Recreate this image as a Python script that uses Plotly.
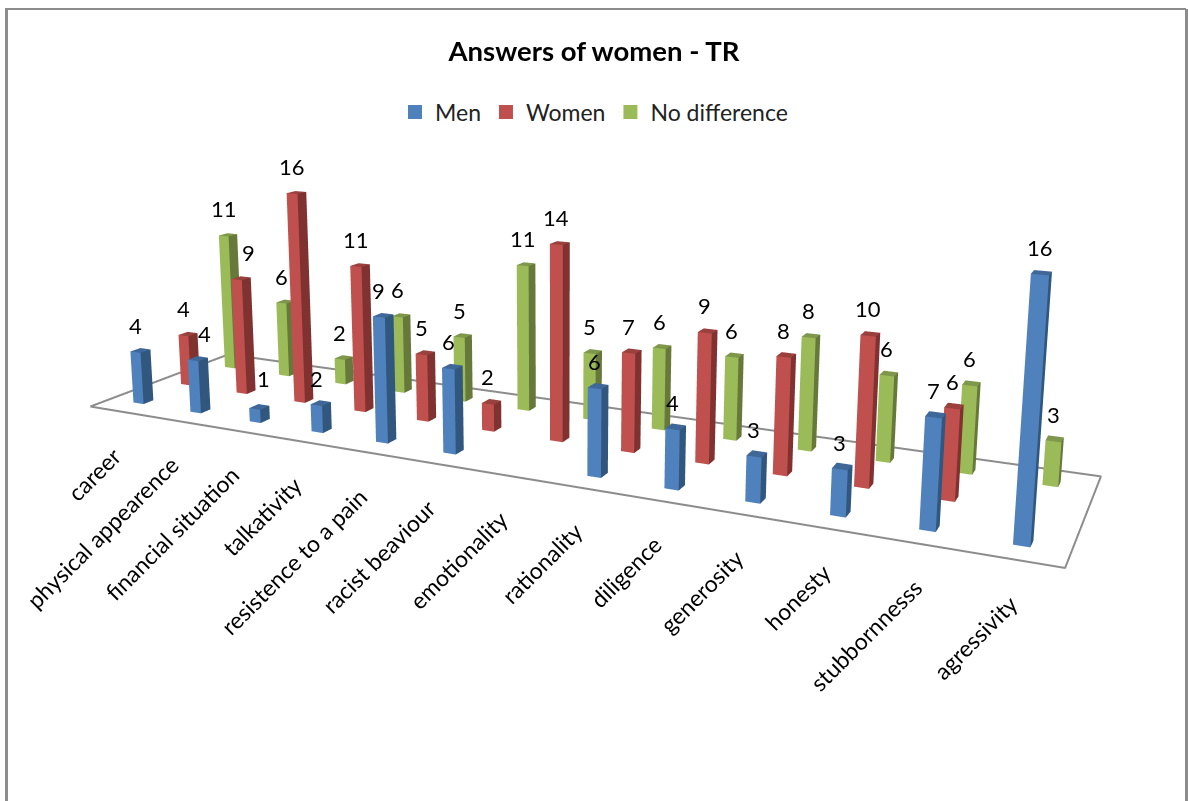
import math
import numpy as np
import plotly.graph_objects as go

categories = ["career", "physical appearence", "financial situation", "talkativity",
              "resistence to a pain", "racist beaviour", "emotionality", "rationality",
              "diligence", "generosity", "honesty", "stubbornnesss", "agressivity"]
men = [4, 4, 1, 2, 9, 6, None, 6, 4, 3, 3, 7, 16]
women = [4, 9, 16, 11, 5, 2, 14, 7, 9, 8, 10, 6, None]
no_difference = [11, 6, 2, 6, 5, 11, 5, 6, 6, 8, 6, 6, 3]
series_names = ["Men", "Women", "No difference"]

W, H = 1188, 801
HW, HD = 0.09, 0.10
E = 3.0
# linear map from (category, series, value) into the scene, giving the reference's view
CAM = np.array([[0.217797, 0.101133, 0.000229, -1.514136],
                [-0.030118, 0.064260, 0.042459, -0.002906],
                [0.064375, -0.136947, 0.005826, -0.249302]])

def place(i, s, z):
    return tuple(float(c) for c in CAM @ np.array([i, s, z, 1.0]))

fig = go.Figure()
FRONT = ["#4F81BD", "#C0504D", "#9BBB59"]
SIDE = ["#31577F", "#7F3230", "#66793A"]
TOP = ["#3F6797", "#9A403D", "#7E974A"]
NUDGE = {(1, 0): (11, 0), (1, 1): (12, 0), (2, 0): (9, 3)}
anns = []
for s, vals in enumerate([men, women, no_difference]):
    X, Y, Z, I, J, K, FC = [], [], [], [], [], [], []
    for i, val in enumerate(vals):
        if val is None:
            continue
        b = len(X)
        for dz in (0, val):
            for dx, dy in ((-HW,-HD),(HW,-HD),(HW,HD),(-HW,HD)):
                a1, a2, a3 = place(i+dx, s+dy, dz)
                X.append(a1); Y.append(a2); Z.append(a3)
        quads = [((0,1,5,4),FRONT[s]),((1,2,6,5),SIDE[s]),((4,5,6,7),TOP[s]),((3,0,4,7),FRONT[s]),((2,3,7,6),SIDE[s])]
        for qd, col in quads:
            for a, bb, cc in ((qd[0],qd[1],qd[2]),(qd[0],qd[2],qd[3])):
                I.append(b+a); J.append(b+bb); K.append(b+cc); FC.append(col)
        a1, a2, a3 = place(i, s-HD, val)
        nx, ny = NUDGE.get((i, s), (0, 0))
        anns.append(dict(x=a1, y=a2, z=a3, text=str(val), showarrow=False, xanchor="center", yanchor="middle",
                         xshift=nx, yshift=27+ny, font=dict(family="Lato", size=22, color="#000")))
    fig.add_trace(go.Mesh3d(x=X, y=Y, z=Z, i=I, j=J, k=K, facecolor=FC, flatshading=True,
                            lighting=dict(ambient=1, diffuse=0, specular=0, roughness=1, fresnel=0),
                            hoverinfo="skip", showlegend=False, showscale=False))
    fig.add_trace(go.Scatter3d(x=[None], y=[None], z=[None], mode="markers", name=series_names[s],
                               marker=dict(symbol="square", size=14, color=FRONT[s])))
fl = [place(*c) for c in [(-.5,-.5,0),(12.5,-.5,0),(12.5,2.5,0),(-.5,2.5,0),(-.5,-.5,0)]]
fig.add_trace(go.Scatter3d(x=[c[0] for c in fl], y=[c[1] for c in fl], z=[c[2] for c in fl], mode="lines",
                           line=dict(color="#8C8C8C", width=4), showlegend=False, hoverinfo="skip"))
for i, name in enumerate(categories):
    a1, a2, a3 = place(i, -0.5, 0)
    anns.append(dict(x=a1, y=a2, z=a3, text=name, textangle=-45, showarrow=False, xanchor="right", yanchor="top",
                     xshift=11, yshift=-27, font=dict(family="Lato", size=23, color="#000")))
RNG = [-4, 4]
ax3 = dict(visible=False, range=RNG)
fig.update_layout(
    width=W, height=H, margin=dict(l=0, r=0, t=0, b=0), paper_bgcolor="white",
    title=dict(text="<b>Answers of women - TR</b>", x=0.5, xanchor="center", y=0.936, yanchor="middle",
               font=dict(family="Lato", size=27.5, color="#000")),
    legend=dict(orientation="h", x=0.5, xanchor="center", y=0.86, yanchor="middle",
                font=dict(family="Lato", size=23, color="#222")),
    scene=dict(domain=dict(x=[0,1], y=[0,1]), xaxis=ax3, yaxis=ax3, zaxis=ax3,
               aspectmode="manual", aspectratio=dict(x=8, y=8, z=8),
               camera=dict(eye=dict(x=0,y=0,z=E), center=dict(x=0,y=0,z=0), up=dict(x=0,y=1,z=0)),
               annotations=anns),
    shapes=[dict(type="line", xref="paper", yref="paper", x0=6.5/W, x1=6.5/W, y0=0, y1=1-9/H,
                 line=dict(color="#8C8C8C", width=3), layer="above"),
            dict(type="line", xref="paper", yref="paper", x0=5/W, x1=1186/W, y0=1-9/H, y1=1-9/H,
                 line=dict(color="#8C8C8C", width=2), layer="above"),
            dict(type="line", xref="paper", yref="paper", x0=1186.5/W, x1=1186.5/W, y0=0, y1=1-9/H,
                 line=dict(color="#8C8C8C", width=3), layer="above")],
)
fig.write_html("out.html", config={"displayModeBar": False},
               post_script="document.body.style.margin='0';document.body.style.overflow='hidden';")
